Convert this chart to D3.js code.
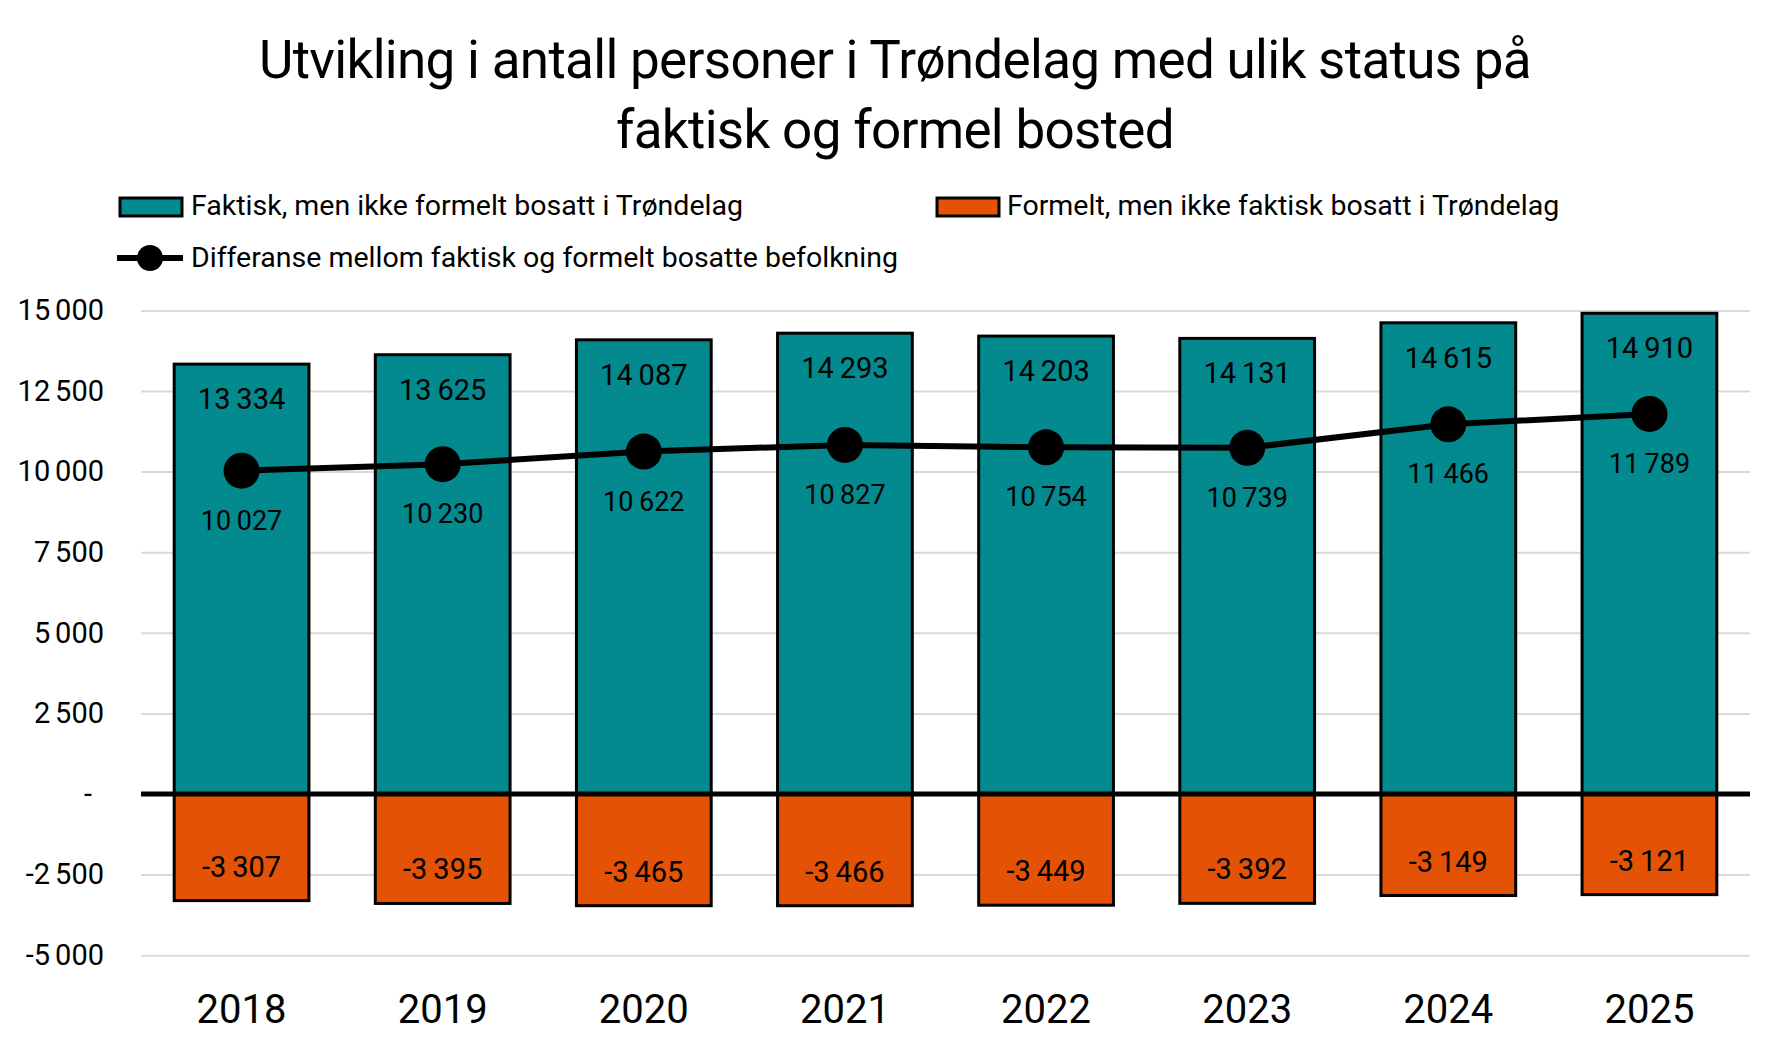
<!DOCTYPE html>
<html>
<head>
    <title>Utvikling i antall personer i Trøndelag</title>
    <script src="https://d3js.org/d3.v7.min.js"></script>
    <style>
        body { margin: 0; background: #fff; }
        text { font-family: Roboto, "Noto Sans", sans-serif; fill: #000; }
    </style>
</head>
<body>
    <div class="chart"></div>
    <script>
        // Data
        const years = ["2018", "2019", "2020", "2021", "2022", "2023", "2024", "2025"];
        const faktisk = [13334, 13625, 14087, 14293, 14203, 14131, 14615, 14910];
        const formelt = [-3307, -3395, -3465, -3466, -3449, -3392, -3149, -3121];
        const differanse = [10027, 10230, 10622, 10827, 10754, 10739, 11466, 11789];
        const yTicks = [-5000, -2500, 0, 2500, 5000, 7500, 10000, 12500, 15000];
        const titleLines = ["Utvikling i antall personer i Trøndelag med ulik status på", "faktisk og formel bosted"];
        const legendLabels = [
            "Faktisk, men ikke formelt bosatt i Trøndelag",
            "Formelt, men ikke faktisk bosatt i Trøndelag",
            "Differanse mellom faktisk og formelt bosatte befolkning"
        ];

        const teal = "#028a8f";
        const orange = "#e35205";
        const width = 1786, height = 1050;

        const svg = d3.select(".chart")
            .append("svg")
            .attr("width", width)
            .attr("height", height);

        // Number format with a space as thousands separator, "-" for zero
        const fmt = v => v === 0 ? "-" : d3.format(",")(v).replace(/,/g, "\u2009").replace("−", "-");
        const fmtAxis = v => v === 0 ? "-" : d3.format(",")(v).replace(/,/g, "\u2006").replace("−", "-");

        // Scales
        const x = d3.scaleBand()
            .domain(years)
            .range([141, 1750])
            .paddingInner(0.33)
            .paddingOuter(0.165);

        const y = d3.scaleLinear()
            .domain([-5000, 15000])
            .range([955.2, 310.4]);

        // Title
        svg.selectAll(".title")
            .data(titleLines)
            .join("text")
            .attr("class", "title")
            .attr("x", 895)
            .attr("y", (d, i) => 78 + i * 70)
            .attr("text-anchor", "middle")
            .attr("font-size", 53)
            .attr("letter-spacing", -0.7)
            .text(d => d);

        // Gridlines and y axis labels
        const yAxis = svg.append("g")
            .attr("transform", "translate(141,0)")
            .call(d3.axisLeft(y).tickValues(yTicks).tickSize(-1609).tickFormat(fmtAxis).tickPadding(37));
        yAxis.select(".domain").remove();
        yAxis.selectAll(".tick line").attr("stroke", "#d9d9d9").attr("stroke-width", 2);
        yAxis.selectAll(".tick text")
            .attr("font-size", 29)
            .attr("fill", "#000")
            .attr("dx", d => d === 0 ? -12 : 0);

        // Positive bars
        svg.selectAll(".bar-pos")
            .data(faktisk)
            .join("rect")
            .attr("class", "bar-pos")
            .attr("x", (d, i) => x(years[i]))
            .attr("width", x.bandwidth())
            .attr("y", d => y(d))
            .attr("height", d => y(0) - y(d))
            .attr("fill", teal)
            .attr("stroke", "#000")
            .attr("stroke-width", 3);

        // Negative bars
        svg.selectAll(".bar-neg")
            .data(formelt)
            .join("rect")
            .attr("class", "bar-neg")
            .attr("x", (d, i) => x(years[i]))
            .attr("width", x.bandwidth())
            .attr("y", y(0))
            .attr("height", d => y(d) - y(0))
            .attr("fill", orange)
            .attr("stroke", "#000")
            .attr("stroke-width", 3);

        // Zero line
        svg.append("line")
            .attr("x1", 141).attr("x2", 1750)
            .attr("y1", y(0)).attr("y2", y(0))
            .attr("stroke", "#000")
            .attr("stroke-width", 5);

        // Difference line
        const cx = (d, i) => x(years[i]) + x.bandwidth() / 2;
        svg.append("path")
            .datum(differanse)
            .attr("fill", "none")
            .attr("stroke", "#000")
            .attr("stroke-width", 6)
            .attr("d", d3.line().x(cx).y(d => y(d)));

        svg.selectAll(".dot")
            .data(differanse)
            .join("circle")
            .attr("class", "dot")
            .attr("cx", cx)
            .attr("cy", d => y(d))
            .attr("r", 18)
            .attr("fill", "#000");

        // Data labels
        svg.selectAll(".lbl-pos")
            .data(faktisk)
            .join("text")
            .attr("class", "lbl-pos")
            .attr("x", cx)
            .attr("y", d => y(d) + 45)
            .attr("text-anchor", "middle")
            .attr("font-size", 29)
            .text(fmt);

        svg.selectAll(".lbl-diff")
            .data(differanse)
            .join("text")
            .attr("class", "lbl-diff")
            .attr("x", cx)
            .attr("y", d => y(d) + 59)
            .attr("text-anchor", "middle")
            .attr("font-size", 27)
            .text(fmt);

        svg.selectAll(".lbl-neg")
            .data(formelt)
            .join("text")
            .attr("class", "lbl-neg")
            .attr("x", cx)
            .attr("y", d => y(d) - 24)
            .attr("text-anchor", "middle")
            .attr("font-size", 29)
            .text(fmt);

        // x axis labels
        const xAxis = svg.append("g")
            .attr("transform", "translate(0,955)")
            .call(d3.axisBottom(x).tickSize(0).tickPadding(40));
        xAxis.select(".domain").remove();
        xAxis.selectAll(".tick text").attr("font-size", 40).attr("fill", "#000");

        // Legend
        const legend = svg.append("g");
        legend.append("rect")
            .attr("x", 120).attr("y", 198).attr("width", 62).attr("height", 18)
            .attr("fill", teal).attr("stroke", "#000").attr("stroke-width", 3);
        legend.append("text")
            .attr("x", 191).attr("y", 215).attr("font-size", 28.5)
            .text(legendLabels[0]);

        legend.append("rect")
            .attr("x", 937).attr("y", 198).attr("width", 62).attr("height", 18)
            .attr("fill", orange).attr("stroke", "#000").attr("stroke-width", 3);
        legend.append("text")
            .attr("x", 1007).attr("y", 215).attr("font-size", 28.5)
            .text(legendLabels[1]);

        legend.append("line")
            .attr("x1", 117).attr("x2", 183).attr("y1", 258).attr("y2", 258)
            .attr("stroke", "#000").attr("stroke-width", 6);
        legend.append("circle")
            .attr("cx", 150).attr("cy", 258).attr("r", 13).attr("fill", "#000");
        legend.append("text")
            .attr("x", 191).attr("y", 267).attr("font-size", 28.5)
            .text(legendLabels[2]);
    </script>
</body>
</html>
